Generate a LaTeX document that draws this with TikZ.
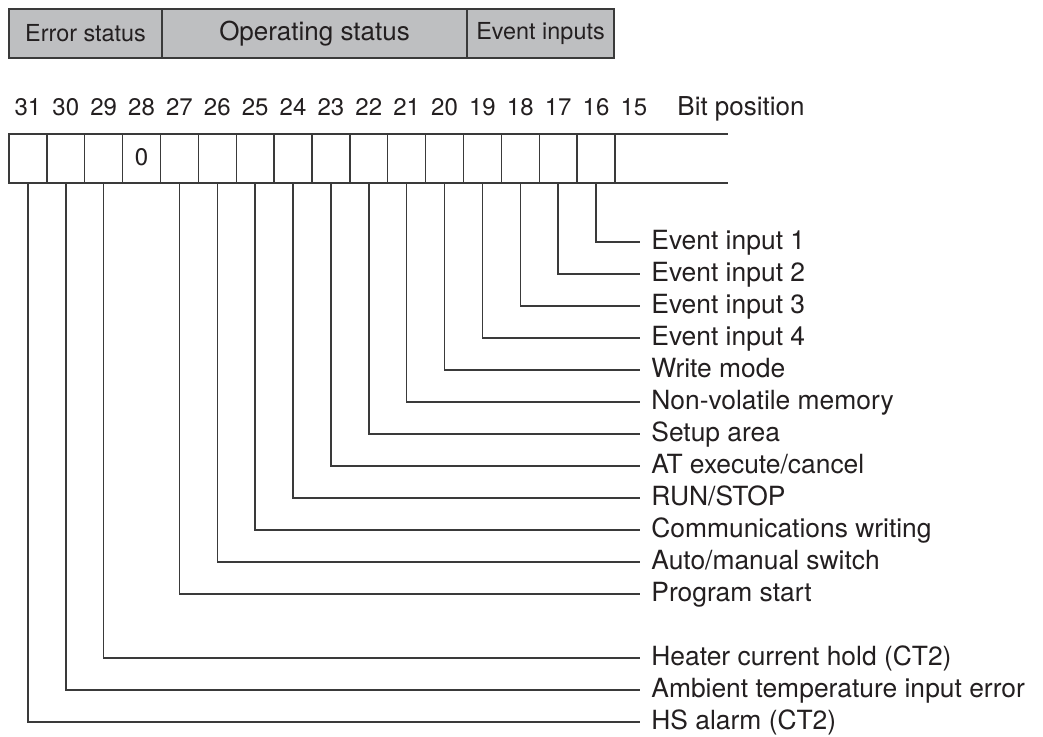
\documentclass[tikz,border=0pt]{standalone}
\usepackage{fontspec}
\setmainfont{TeX Gyre Heros}
\usepackage{xcolor}
\definecolor{ink-dark}{HTML}{231F20}
\definecolor{rule-gray}{HTML}{3A3A3A}
\definecolor{head-gray}{HTML}{BEBFC1}

\begin{document}
\begin{tikzpicture}[x=0.5pt, y=-0.5pt,
      every node/.style={text=ink-dark},
      hdr/.style={draw=rule-gray, line width=0.7pt, fill=head-gray, outer sep=0pt,
        minimum height=24.5pt, inner sep=0pt, font=\fontsize{11.7pt}{14pt}\selectfont},
      cell/.style={draw=rule-gray, line width=0.7pt, outer sep=0pt,
        minimum width=18.94pt, minimum height=24.5pt, inner sep=0pt},
      bitnum/.style={inner sep=0pt, text height=0.72em, text depth=0pt,
        font=\fontsize{12pt}{14pt}\selectfont},
      lbl/.style={anchor=west, inner xsep=5.5pt, inner ysep=0pt, text height=0.72em,
        text depth=0pt, font=\fontsize{13.2pt}{15pt}\selectfont},
      lead/.style={draw=rule-gray, line width=0.7pt}]
    \useasboundingbox[fill=white] (0,0) rectangle (1043,736);
    % field header
    \node[hdr, minimum width=76.5pt, anchor=north west] (err) at (9,9) {Error status};
    \node[hdr, minimum width=152.5pt, anchor=west,
          font=\fontsize{13pt}{15pt}\selectfont] (ops) at (err.east) {Operating status};
    \node[hdr, minimum width=73.5pt, anchor=west] (evt) at (ops.east) {Event inputs};
    % register cells, bit 31 down to 16
    \foreach \b [count=\i from 0] in {31,30,...,16} {
      \node[cell] (c\b) at ({9+(\i+0.5)*37.875},158.5) {};
      \node[bitnum] (n\b) at ({9+(\i+0.5)*37.875},108) {\b};
    }
    \node[bitnum] (n15) at ({9+16.5*37.875},108) {15};
    \node[bitnum, anchor=west, font=\fontsize{13pt}{15pt}\selectfont] (bitpos) at (677,108)
          {Bit position};
    \node[bitnum] (zero) at (c28) {0};
    \coordinate (regtop) at (728,134);
    \coordinate (regbot) at (728,183);
    \draw[lead] (c16.north east) -- (regtop);
    \draw[lead] (c16.south east) -- (regbot);
    % bit meanings
    \foreach \b/\t in {16/Event input 1, 17/Event input 2, 18/Event input 3,
        19/Event input 4, 20/Write mode, 21/Non-volatile memory, 22/Setup area,
        23/{AT execute/cancel}, 24/{RUN/STOP}, 25/Communications writing,
        26/{Auto/manual switch}, 27/Program start, 29/Heater current hold (CT2),
        30/Ambient temperature input error, 31/HS alarm (CT2)} {
      \node[lbl] (l\b) at (640,{242+32*(\b-16)}) {\t};
      \draw[lead] (c\b.south) |- (l\b.west);
    }
  \end{tikzpicture}
\end{document}
